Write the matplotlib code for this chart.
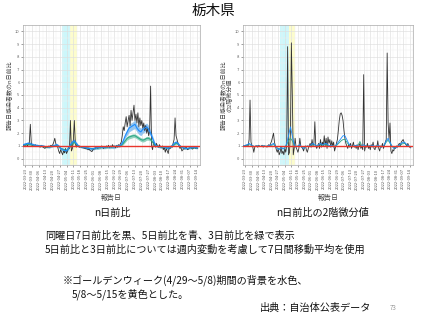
import numpy as np
import pandas as pd
import matplotlib
matplotlib.use("Agg")
import matplotlib.pyplot as plt
import matplotlib.dates as mdates
from matplotlib.ticker import MultipleLocator

plt.rcParams['font.family'] = ['Noto Sans CJK JP', 'DejaVu Sans']

start_date = "2022-03-21"
n_days = 179
gw_span = ("2022-04-29", "2022-05-08")
post_gw_span = ("2022-05-08", "2022-05-15")
tick_start = "2022-03-23"

# ---- left panel: n-day ratio ----
left_black = [
    1.0, 1.1, 1.05, 1.15, 1.0, 1.1, 1.3, 2.7, 1.2, 1.0,
    1.05, 0.95, 1.1, 1.0, 0.95, 1.05, 1.0, 0.9, 1.05, 1.0,
    0.9, 0.85, 0.8, 0.95, 0.85, 0.9, 1.0, 0.95, 1.05, 1.0,
    1.1, 1.3, 1.6, 1.2, 1.0, 0.9, 0.6, 0.4, 0.7, 0.5,
    0.3, 0.6, 0.45, 0.8, 0.4, 0.6, 0.9, 0.8, 3.0, 0.6,
    0.8, 1.5, 3.0, 1.2, 0.9, 1.1, 1.0, 0.9, 0.95, 0.9,
    0.85, 0.9, 0.8, 0.85, 0.75, 0.8, 0.7, 0.75, 0.65, 0.6,
    0.55, 0.7, 0.8, 0.75, 0.9, 0.85, 0.8, 0.95, 0.9, 0.85,
    1.0, 0.9, 0.8, 0.95, 0.85, 1.0, 0.9, 1.05, 0.85, 1.0,
    0.9, 1.1, 0.95, 1.0, 0.85, 1.05, 0.9, 1.1, 1.0, 1.15,
    1.3, 1.8, 2.5, 2.2, 2.8, 3.3, 2.5, 3.0, 3.4, 2.6,
    3.8, 3.0, 3.6, 4.2, 3.0, 3.5, 2.8, 3.6, 2.5, 3.2,
    2.6, 3.0, 2.4, 2.8, 2.2, 2.6, 2.0, 2.4, 1.8, 2.2,
    5.7, 1.0, 0.7, 1.3, 1.1, 0.9, 1.2, 1.0, 0.9, 1.1,
    0.95, 0.85, 1.0, 0.7, 0.9, 0.5, 0.8, 0.6, 0.4, 0.9,
    0.8, 1.0, 0.9, 1.2, 1.5, 3.2, 1.8, 1.5, 1.2, 1.0,
    0.8, 0.9, 0.6, 0.7, 0.8, 0.75, 0.9, 0.85, 0.7, 0.8,
    0.85, 0.9, 0.8, 0.75, 0.85, 0.9, 0.8, 0.85, 0.8,
]
left_blue = [
    1.1, 1.15, 1.2, 1.2, 1.15, 1.1,
    1.05, 1.05, 1.0, 1.0, 1.0, 0.95, 0.95, 0.9, 0.95, 1.0,
    1.05, 1.1, 1.0, 0.8, 0.7, 0.65, 0.6, 0.8,
    1.1, 1.3, 1.4, 1.2, 1.0, 0.95, 0.9,
    0.9, 0.85, 0.8, 0.8, 0.75, 0.8, 0.85, 0.85, 0.9, 0.9,
    0.9, 0.9, 0.95, 0.9, 0.95, 0.9, 0.95, 1.0, 1.0, 1.1,
    1.4, 1.8, 2.1, 2.4, 2.5, 2.6, 2.7, 2.4, 2.2, 2.1, 2.3, 2.4, 2.5, 2.3, 2.0, 1.6, 1.2,
    1.0, 0.95, 0.9, 0.95, 0.9, 0.85, 0.8, 0.9,
    1.0, 1.2, 1.3, 1.2, 1.0, 0.9, 0.85,
    0.8, 0.8, 0.85, 0.85, 0.9, 0.85, 0.85,
]
left_blue_hw = [
    0.1, 0.1, 0.1, 0.1, 0.1, 0.1,
    0.08, 0.08, 0.07, 0.07, 0.08, 0.08, 0.07, 0.07, 0.08, 0.08,
    0.08, 0.1, 0.1, 0.12, 0.12, 0.12, 0.12, 0.1,
    0.12, 0.15, 0.15, 0.12, 0.1, 0.08, 0.08,
    0.08, 0.08, 0.1, 0.1, 0.1, 0.1, 0.12, 0.12, 0.12, 0.12,
    0.12, 0.12, 0.12, 0.12, 0.12, 0.12, 0.12, 0.1, 0.1, 0.12,
    0.15, 0.2, 0.25, 0.3, 0.3, 0.3, 0.35, 0.3, 0.3, 0.3, 0.3, 0.3, 0.3, 0.3, 0.25, 0.2, 0.15,
    0.1, 0.08, 0.08, 0.08, 0.08, 0.08, 0.08, 0.08,
    0.1, 0.1, 0.1, 0.1, 0.08, 0.08, 0.08,
    0.08, 0.08, 0.08, 0.08, 0.08, 0.08, 0.08,
]
left_green = [
    1.1, 1.1, 1.15, 1.1, 1.1, 1.05,
    1.0, 1.0, 1.0, 1.0, 0.95, 0.95, 0.9, 0.9, 0.95, 1.0,
    1.0, 1.05, 0.95, 0.8, 0.75, 0.7, 0.65, 0.8,
    1.0, 1.2, 1.3, 1.15, 1.0, 0.95, 0.9,
    0.9, 0.85, 0.85, 0.8, 0.8, 0.8, 0.85, 0.85, 0.85, 0.9,
    0.9, 0.9, 0.9, 0.95, 0.9, 0.95, 0.95, 1.0, 1.0, 1.05,
    1.2, 1.4, 1.6, 1.7, 1.75, 1.8, 1.8, 1.7, 1.6, 1.5, 1.45, 1.5, 1.6, 1.6, 1.5, 1.3, 1.1,
    1.0, 0.95, 0.9, 0.9, 0.9, 0.85, 0.85, 0.9,
    1.0, 1.1, 1.2, 1.15, 1.0, 0.9, 0.85,
    0.8, 0.8, 0.85, 0.85, 0.85, 0.85, 0.85,
]
left_green_hw = [
    0.06, 0.06, 0.06, 0.06, 0.06, 0.06,
    0.05, 0.05, 0.05, 0.05, 0.05, 0.05, 0.05, 0.05, 0.05, 0.05,
    0.05, 0.06, 0.06, 0.08, 0.08, 0.08, 0.08, 0.06,
    0.08, 0.1, 0.1, 0.08, 0.06, 0.05, 0.05,
    0.05, 0.05, 0.06, 0.06, 0.06, 0.06, 0.08, 0.08, 0.08, 0.08,
    0.08, 0.08, 0.08, 0.08, 0.08, 0.08, 0.08, 0.06, 0.06, 0.08,
    0.1, 0.12, 0.14, 0.15, 0.15, 0.15, 0.15, 0.15, 0.15, 0.15, 0.15, 0.15, 0.15, 0.15, 0.12, 0.1, 0.08,
    0.06, 0.05, 0.05, 0.05, 0.05, 0.05, 0.05, 0.05,
    0.06, 0.06, 0.06, 0.06, 0.05, 0.05, 0.05,
    0.05, 0.05, 0.05, 0.05, 0.05, 0.05, 0.05,
]

# ---- right panel: second derivative of n-day ratio ----
right_black = [
    1.0, 0.95, 1.05, 1.0, 1.1, 1.0, 1.5, 4.6, 1.3, 1.0,
    0.9, 0.5, 0.9, 1.0, 1.0, 0.9, 1.05, 1.0, 0.95, 1.0,
    1.05, 0.9, 1.0, 0.95, 1.0, 0.9, 1.0, 1.1, 1.0, 1.2,
    1.4, 1.7, 2.0, 1.3, 1.0, 0.7, 0.5, 0.8, 0.3, 0.5,
    0.9, 0.4, 0.6, 0.3, 0.8, 0.5, 1.0, 8.8, 0.3, 0.5,
    2.0, 9.1, 5.0, 0.3, 0.8, 1.6, 0.9, 0.7, 0.5, 0.8,
    1.6, 1.0, 0.9, 0.8, 0.6, 0.9, 1.0, 0.7, 0.5, 0.8,
    1.0, 1.2, 0.9, 1.5, 1.0, 1.2, 2.9, 1.0, 0.8, 1.0,
    1.2, 0.8, 1.5, 0.9, 1.3, 1.0, 1.8, 1.0, 1.6, 0.8,
    1.7, 1.2, 1.5, 0.9, 1.4, 1.0, 1.3, 0.6, 0.9, 1.2,
    1.5, 2.2, 3.0, 3.5, 3.6, 3.4, 3.0, 2.2, 1.6, 1.2,
    1.0, 0.8, 1.1, 0.9, 1.2, 0.8, 1.0, 1.3, 0.9, 1.0,
    0.8, 1.1, 0.7, 1.0, 1.2, 0.8, 1.0, 0.7, 6.6, 0.6,
    1.0, 0.9, 1.2, 0.8, 1.0, 0.7, 1.1, 0.9, 1.3, 0.8,
    0.7, 1.0, 0.9, 1.4, 0.8, 0.6, 1.0, 0.9, 1.2, 0.8,
    1.0, 1.3, 1.5, 8.3, 2.8, 1.5, 2.8, 0.6, 0.4, 0.7,
    0.6, 0.9, 0.8, 1.0, 0.9, 1.1, 1.2, 1.0, 1.3, 1.4,
    1.5, 1.3, 1.2, 1.1, 1.0, 1.2, 1.0, 0.9, 0.85,
]
right_blue = [
    1.0, 1.05, 1.1, 1.2, 1.1, 1.0,
    0.95, 1.0, 1.0, 0.95, 1.0, 1.0, 0.95, 1.0, 1.05, 1.1,
    1.2, 1.0, 0.8, 0.7, 0.9, 0.75, 0.85, 1.2,
    1.8, 2.5, 1.8, 1.1, 0.9, 1.0, 1.1,
    0.9, 0.8, 0.9, 1.0, 0.95, 1.1, 1.2, 1.1, 1.0, 1.1,
    1.2, 1.1, 1.15, 1.2, 1.1, 1.0, 1.05, 0.9, 1.0, 1.2,
    1.4, 1.6, 1.8, 1.8, 1.5, 1.2, 1.0, 0.95, 1.0, 1.05, 1.0, 0.95, 1.0, 1.1, 1.0, 0.95, 1.0,
    1.0, 1.05, 0.95, 1.0, 1.05, 0.9, 0.95, 1.1,
    1.4, 1.6, 1.3, 1.0, 0.8, 0.85, 0.95,
    1.1, 1.2, 1.3, 1.25, 1.1, 1.0, 0.9,
]
right_green = [
    1.0, 1.0, 1.05, 1.1, 1.05, 1.0,
    0.95, 1.0, 1.0, 0.95, 1.0, 1.0, 0.95, 1.0, 1.0, 1.05,
    1.1, 1.0, 0.85, 0.75, 0.9, 0.8, 0.85, 1.1,
    1.4, 1.6, 1.4, 1.05, 0.9, 1.0, 1.05,
    0.9, 0.85, 0.9, 1.0, 0.95, 1.05, 1.1, 1.05, 1.0, 1.05,
    1.1, 1.05, 1.1, 1.1, 1.05, 1.0, 1.0, 0.95, 1.0, 1.1,
    1.25, 1.4, 1.5, 1.5, 1.3, 1.1, 1.0, 0.95, 1.0, 1.0, 1.05, 1.35, 1.0, 1.0, 1.0, 0.95, 1.0,
    1.0, 1.0, 0.95, 1.0, 1.0, 0.9, 0.95, 1.05,
    1.3, 1.45, 1.2, 1.0, 0.85, 0.9, 0.95,
    1.05, 1.1, 1.2, 1.2, 1.05, 1.0, 0.9,
]

y_ticks = list(range(0, 11))
left_ylabel = "報告日感染者数のn日前比"
right_ylabel = "報告日感染者数のn日前比\nの2階微分値"
xlabel = "報告日"

# ---- build ----
dates_daily = pd.date_range(start_date, periods=n_days, freq="D")
dates_2d = dates_daily[::2]
tick_dates = pd.date_range(tick_start, dates_daily[-1], freq="7D")

BLACK = "#333333"
BLUE = "#1a8cff"
BLUE_FILL = "#7ab8ee"
GREEN = "#2fa886"
GREEN_FILL = "#79c9b0"
RED = "#e8352b"
CYAN_BG = "#ccf7fb"
YELLOW_BG = "#fdfdcc"

fig = plt.figure(figsize=(4.27, 3.2), dpi=100)
fig.patch.set_facecolor("white")

W, H = 427.0, 320.0


def ax_rect(x0, y0, x1, y1):
    return [x0 / W, 1 - y1 / H, (x1 - x0) / W, (y1 - y0) / H]


def style_axis(ax, ylabel):
    ax.set_facecolor("white")
    ax.axvspan(pd.Timestamp(gw_span[0]), pd.Timestamp(gw_span[1]), color=CYAN_BG, lw=0, zorder=0.5)
    ax.axvspan(pd.Timestamp(post_gw_span[0]), pd.Timestamp(post_gw_span[1]), color=YELLOW_BG, lw=0, zorder=0.5)
    ax.set_xlim(dates_daily[0] - pd.Timedelta(days=0.5), dates_daily[-1] + pd.Timedelta(days=1))
    ax.set_ylim(-0.5, 10.5)
    ax.set_yticks(y_ticks)
    ax.yaxis.set_minor_locator(MultipleLocator(0.5))
    ax.set_xticks(tick_dates)
    minor = tick_dates + pd.Timedelta(days=3.5)
    ax.set_xticks(minor, minor=True)
    ax.xaxis.set_major_formatter(mdates.DateFormatter("%Y-%m-%d"))
    ax.grid(True, which="major", color="#dedede", lw=0.45, zorder=0.6)
    ax.grid(True, which="minor", color="#efefef", lw=0.35, zorder=0.6)
    ax.set_axisbelow(True)
    ax.tick_params(axis="x", which="major", labelsize=2.9, labelrotation=90, length=1.5,
                   width=0.4, color="#555555", labelcolor="#555555", pad=1)
    ax.tick_params(axis="y", which="major", labelsize=3.0, length=1.5, width=0.4,
                   color="#555555", labelcolor="#666666", pad=1)
    ax.tick_params(which="minor", length=0)
    for s in ax.spines.values():
        s.set_color("#aaaaaa")
        s.set_linewidth(0.5)
    ax.set_xlabel(xlabel, fontsize=5, color="#444444", labelpad=3)
    ax.set_ylabel(ylabel, fontsize=4.3, color="#444444", labelpad=2, linespacing=1.0)


# Left panel
axL = fig.add_axes(ax_rect(23, 25, 200, 165))
style_axis(axL, left_ylabel)
lb = np.array(left_blue)
lbh = np.array(left_blue_hw)
lg = np.array(left_green)
lgh = np.array(left_green_hw)
axL.fill_between(dates_2d, lb - lbh, lb + lbh, color=BLUE_FILL, alpha=0.8, lw=0, zorder=2)
axL.fill_between(dates_2d, lg - lgh, lg + lgh, color=GREEN_FILL, alpha=0.8, lw=0, zorder=2)
axL.plot(dates_daily, left_black, color=BLACK, lw=0.6, zorder=3)
axL.plot(dates_2d, left_green, color=GREEN, lw=0.8, zorder=4)
axL.plot(dates_2d, left_blue, color=BLUE, lw=0.8, zorder=5)
axL.axhline(1, color=RED, lw=1.0, zorder=6)

# Right panel
axR = fig.add_axes(ax_rect(243, 25, 413, 165))
style_axis(axR, right_ylabel)
axR.plot(dates_daily, right_black, color=BLACK, lw=0.6, zorder=3)
axR.plot(dates_2d, right_green, color=GREEN, lw=0.6, zorder=4)
axR.plot(dates_2d, right_blue, color=BLUE, lw=0.6, zorder=5)
axR.axhline(1, color=RED, lw=1.0, zorder=6)


def ftext(x, y, s, size, **kw):
    fig.text(x / W, 1 - y / H, s, fontsize=size, va="center", **kw)


ftext(213.5, 11, "栃木県", 10.5, ha="center", color="#111111")
ftext(112, 213, "n日前比", 7.3, ha="center", color="#111111")
ftext(323, 213, "n日前比の2階微分値", 7.3, ha="center", color="#111111")
ftext(45, 236, "同曜日7日前比を黒、5日前比を青、3日前比を緑で表示", 7.3, ha="left", color="#111111")
ftext(45, 250, "5日前比と3日前比については週内変動を考慮して7日間移動平均を使用", 7.3, ha="left", color="#111111")
ftext(63, 280, "※ゴールデンウィーク(4/29～5/8)期間の背景を水色、", 7.3, ha="left", color="#111111")
ftext(72, 294, "5/8～5/15を黄色とした。", 7.3, ha="left", color="#111111")
ftext(260, 308, "出典：自治体公表データ", 7.3, ha="left", color="#111111")
ftext(390, 308, "73", 4.5, ha="left", color="#999999")

fig.savefig("out.png", dpi=100)
